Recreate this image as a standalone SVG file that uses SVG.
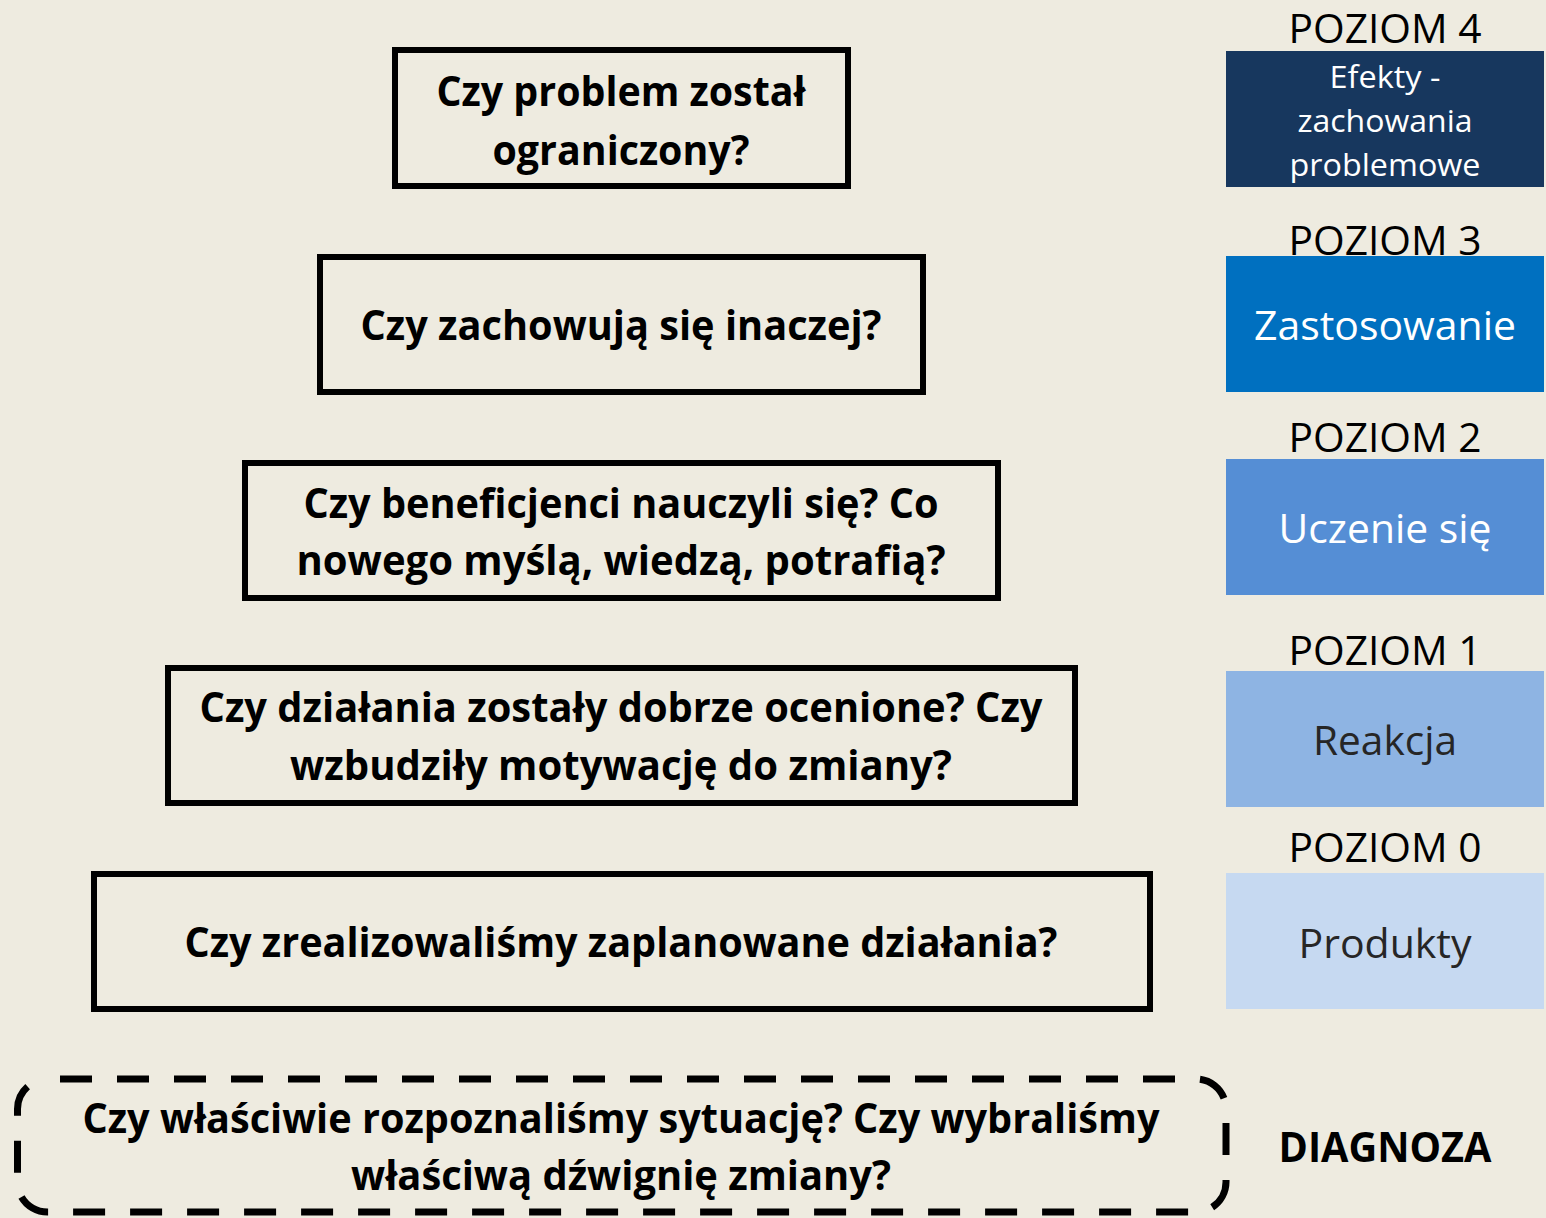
<svg xmlns="http://www.w3.org/2000/svg" width="1546" height="1218" viewBox="0 0 1546 1218">
<style>
.q{fill:none;stroke:#000;stroke-width:6}
.qt{font-family:"Open Sans","Noto Sans",sans-serif;font-weight:bold;font-size:41px;fill:#000;text-anchor:middle}
.lv{font-family:"Open Sans","Noto Sans",sans-serif;font-size:41px;fill:#000;text-anchor:middle}
.in{font-family:"Open Sans","Noto Sans",sans-serif;font-size:41px;text-anchor:middle}
</style>
<rect width="1546" height="1218" fill="#EEEBE0"/>
<g id="connectors"/>
<g id="q4">
<rect class="q" x="395" y="50" width="453" height="136"/>
<text class="qt" x="621" y="106" textLength="369" lengthAdjust="spacingAndGlyphs">Czy problem został</text>
<text class="qt" x="621" y="165" textLength="257" lengthAdjust="spacingAndGlyphs">ograniczony?</text>
</g>
<g id="q3">
<rect class="q" x="320" y="257" width="603" height="135"/>
<text class="qt" x="621" y="340" textLength="521" lengthAdjust="spacingAndGlyphs">Czy zachowują się inaczej?</text>
</g>
<g id="q2">
<rect class="q" x="245" y="463" width="753" height="135"/>
<text class="qt" x="621" y="518" textLength="635" lengthAdjust="spacingAndGlyphs">Czy beneficjenci nauczyli się? Co</text>
<text class="qt" x="621" y="575" textLength="649" lengthAdjust="spacingAndGlyphs">nowego myślą, wiedzą, potrafią?</text>
</g>
<g id="q1">
<rect class="q" x="168" y="668" width="907" height="135"/>
<text class="qt" x="621" y="722" textLength="843" lengthAdjust="spacingAndGlyphs">Czy działania zostały dobrze ocenione? Czy</text>
<text class="qt" x="621" y="780" textLength="662" lengthAdjust="spacingAndGlyphs">wzbudziły motywację do zmiany?</text>
</g>
<g id="q0">
<rect class="q" x="94" y="874" width="1056" height="135"/>
<text class="qt" x="621" y="957" textLength="873" lengthAdjust="spacingAndGlyphs">Czy zrealizowaliśmy zaplanowane działania?</text>
</g>
<g id="qd">
<rect x="17.5" y="1079" width="1208.5" height="133" rx="30" ry="30" fill="none" stroke="#000" stroke-width="7" stroke-dasharray="32 25" stroke-dashoffset="44.5"/>
<text class="qt" x="621" y="1133" textLength="1077" lengthAdjust="spacingAndGlyphs">Czy właściwie rozpoznaliśmy sytuację? Czy wybraliśmy</text>
<text class="qt" x="621" y="1190" textLength="540" lengthAdjust="spacingAndGlyphs">właściwą dźwignię zmiany?</text>
</g>
<g id="p4">
<text class="lv" x="1385" y="43" textLength="193" lengthAdjust="spacingAndGlyphs">POZIOM 4</text>
<rect x="1226" y="51" width="318" height="136" fill="#17375E"/>
<text class="in" x="1385" y="88" style="font-size:31px;fill:#fff" textLength="111" lengthAdjust="spacingAndGlyphs">Efekty -</text>
<text class="in" x="1385" y="132" style="font-size:31px;fill:#fff" textLength="175" lengthAdjust="spacingAndGlyphs">zachowania</text>
<text class="in" x="1385" y="176" style="font-size:31px;fill:#fff" textLength="191" lengthAdjust="spacingAndGlyphs">problemowe</text>
</g>
<g id="p3">
<rect x="1226" y="256" width="318" height="136" fill="#0070C0"/>
<text class="lv" x="1385" y="255" textLength="193" lengthAdjust="spacingAndGlyphs">POZIOM 3</text>
<text class="in" x="1385" y="340" style="fill:#fff" textLength="262" lengthAdjust="spacingAndGlyphs">Zastosowanie</text>
</g>
<g id="p2">
<text class="lv" x="1385" y="452" textLength="193" lengthAdjust="spacingAndGlyphs">POZIOM 2</text>
<rect x="1226" y="459" width="318" height="136" fill="#558ED5"/>
<text class="in" x="1385" y="543" style="fill:#fff" textLength="213" lengthAdjust="spacingAndGlyphs">Uczenie się</text>
</g>
<g id="p1">
<text class="lv" x="1385" y="665" textLength="193" lengthAdjust="spacingAndGlyphs">POZIOM 1</text>
<rect x="1226" y="671" width="318" height="136" fill="#8EB4E3"/>
<text class="in" x="1385" y="755" style="fill:#262626" textLength="144" lengthAdjust="spacingAndGlyphs">Reakcja</text>
</g>
<g id="p0">
<text class="lv" x="1385" y="862" textLength="193" lengthAdjust="spacingAndGlyphs">POZIOM 0</text>
<rect x="1226" y="873" width="318" height="136" fill="#C6D9F1"/>
<text class="in" x="1385" y="958" style="fill:#262626" textLength="173" lengthAdjust="spacingAndGlyphs">Produkty</text>
</g>
<g id="diag">
<text class="qt" x="1385" y="1162" textLength="213" lengthAdjust="spacingAndGlyphs">DIAGNOZA</text>
</g>
</svg>
